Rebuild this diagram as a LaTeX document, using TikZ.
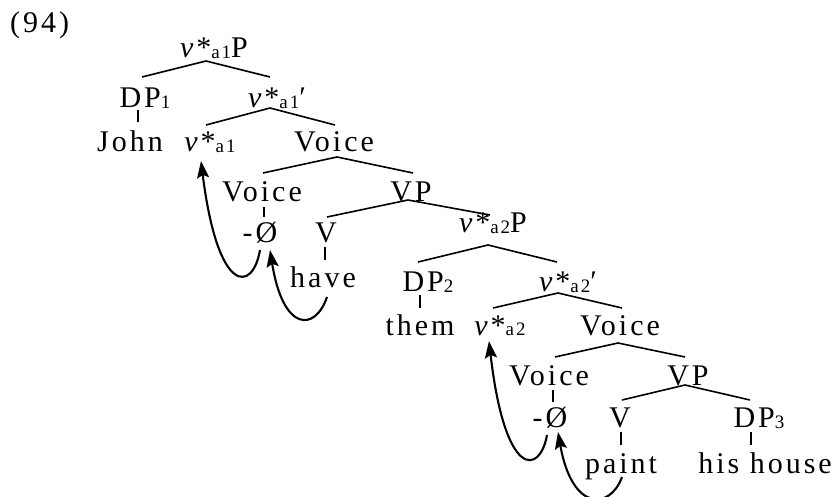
\documentclass[tikz,border=0pt]{standalone}
\usepackage{fontspec}
\setmainfont{Liberation Serif}[LetterSpace=10]
\usetikzlibrary{arrows.meta}
\newcommand\sbs[1]{\raisebox{-1pt}{\fontsize{19}{19}\selectfont #1}}
\newcommand\vst{\textit{v}*}
\begin{document}
\begin{tikzpicture}[x=1pt,y=-1pt,
  lab/.style={inner sep=0pt,anchor=base,font=\fontsize{30}{30}\selectfont},
  branch/.style={line width=1.6pt},
  mv/.style={line width=2.1pt,-{Stealth[length=17pt,width=12pt,inset=3pt]}}]
\useasboundingbox (0,0) rectangle (836,497);
% labels
\node[lab,anchor=base west] (ex) at (10,33) {(94)};
\node[lab] (vaP) at (214,58) {\vst\sbs{a1}P};
\node[lab] (dp1) at (145,108) {DP\sbs{1}};
\node[lab] (vab) at (277,108) {\vst\sbs{a1}′};
\node[lab] (john) at (130,152) {John};
\node[lab] (va) at (210,152) {\vst\sbs{a1}};
\node[lab] (voiA) at (334,152) {Voice};
\node[lab] (voiB) at (262,202) {Voice};
\node[lab] (vpA) at (411,202) {VP};
\node[lab] (zA) at (260,243) {-Ø};
\node[lab] (vA) at (326,243) {V};
\node[lab] (have) at (323,288) {have};
\node[lab] (vbP) at (493,233) {\vst\sbs{a2}P};
\node[lab] (dp2) at (428,292) {DP\sbs{2}};
\node[lab] (vbb) at (568,292) {\vst\sbs{a2}′};
\node[lab] (them) at (420,335) {them};
\node[lab] (vb) at (500,335) {\vst\sbs{a2}};
\node[lab] (voiC) at (620,335) {Voice};
\node[lab] (voiD) at (549,385) {Voice};
\node[lab] (vpB) at (688,385) {VP};
\node[lab] (zB) at (550,427) {-Ø};
\node[lab] (vB) at (620,427) {V};
\node[lab] (dp3) at (759,427) {DP\sbs{3}};
\node[lab] (paint) at (621,473) {paint};
\node[lab] (hh) at (765,473) {his house};
% branch points
\coordinate (vaPm) at (206,61);
\coordinate (vaPl) at (142,77);
\coordinate (vaPr) at (270,77);
\coordinate (vabm) at (270,108);
\coordinate (vabl) at (206,125);
\coordinate (vabr) at (335,125);
\coordinate (voiAm) at (337,157);
\coordinate (voiAl) at (263,173);
\coordinate (voiAr) at (413,173);
\coordinate (vpAm) at (408,200);
\coordinate (vpAl) at (327,217);
\coordinate (vpAr) at (490,215);
\coordinate (vbPm) at (488,245);
\coordinate (vbPl) at (418,262);
\coordinate (vbPr) at (557,262);
\coordinate (vbbm) at (558,293);
\coordinate (vbbl) at (493,308);
\coordinate (vbbr) at (622,308);
\coordinate (voiCm) at (618,343);
\coordinate (voiCl) at (555,357);
\coordinate (voiCr) at (685,357);
\coordinate (vpBm) at (685,385);
\coordinate (vpBl) at (622,400);
\coordinate (vpBr) at (750,400);
\draw[branch] (vaPl) -- (vaPm) -- (vaPr);
\draw[branch] (vabl) -- (vabm) -- (vabr);
\draw[branch] (voiAl) -- (voiAm) -- (voiAr);
\draw[branch] (vpAl) -- (vpAm) -- (vpAr);
\draw[branch] (vbPl) -- (vbPm) -- (vbPr);
\draw[branch] (vbbl) -- (vbbm) -- (vbbr);
\draw[branch] (voiCl) -- (voiCm) -- (voiCr);
\draw[branch] (vpBl) -- (vpBm) -- (vpBr);
% unary ticks
\coordinate (t1a) at (138,110); \coordinate (t1b) at (138,122);
\coordinate (t2a) at (264,207); \coordinate (t2b) at (264,217);
\coordinate (t3a) at (325,247); \coordinate (t3b) at (325,260);
\coordinate (t4a) at (420,295); \coordinate (t4b) at (420,308);
\coordinate (t5a) at (553,390); \coordinate (t5b) at (553,402);
\coordinate (t6a) at (621,432); \coordinate (t6b) at (621,445);
\coordinate (t7a) at (751,432); \coordinate (t7b) at (751,445);
\foreach \t in {1,...,7} {\draw[branch] (t\t a) -- (t\t b);}
% movement arrows
\coordinate (m1s) at (260,250); \coordinate (m1t) at (201,161);
\coordinate (m2s) at (327,297); \coordinate (m2t) at (270,250);
\coordinate (m3s) at (547,435); \coordinate (m3t) at (489,341);
\coordinate (m4s) at (622,477); \coordinate (m4t) at (558,432);
\draw[mv] (m1s) .. controls (253,292) and (218,297) .. (m1t);
\draw[mv] (m2s) .. controls (315,332) and (283,332) .. (m2t);
\draw[mv] (m3s) .. controls (540,475) and (505,480) .. (m3t);
\draw[mv] (m4s) .. controls (610,510) and (572,512) .. (m4t);
\end{tikzpicture}
\end{document}
